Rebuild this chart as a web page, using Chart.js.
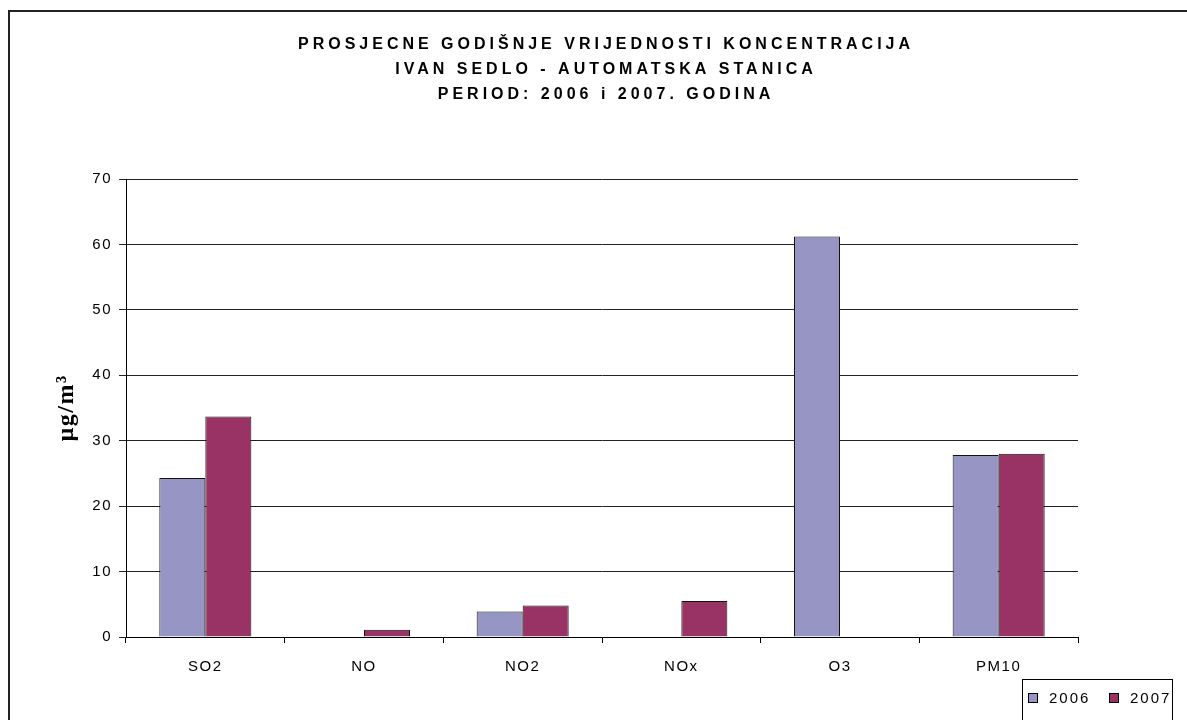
<!DOCTYPE html>
<html>
<head>
<meta charset="utf-8">
<script src="https://cdn.jsdelivr.net/npm/chart.js@4"></script>
<style>
  html, body { margin: 0; padding: 0; background: #fff; }
  #wrap { width: 1187px; height: 720px; position: relative; }
</style>
</head>
<body>
<div id="wrap"><canvas id="c" width="1187" height="720"></canvas></div>
<script>
const titleLines = [
  'PROSJECNE GODIŠNJE VRIJEDNOSTI KONCENTRACIJA',
  'IVAN SEDLO - AUTOMATSKA STANICA',
  'PERIOD: 2006 i 2007. GODINA'
];
const categories = ['SO2', 'NO', 'NO2', 'NOx', 'O3', 'PM10'];
const seriesLabels = ['2006', '2007'];
const values2006 = [24.3, null, 3.9, null, 61.2, 27.8];
const values2007 = [33.7, 1.1, 4.8, 5.5, null, 28.0];
const yTickValues = [0, 10, 20, 30, 40, 50, 60, 70];
const yAxisTitle = 'µg/m³';
const colors = ['#9695C4', '#993366'];

const FONT = '"Liberation Sans", Arial, sans-serif';

const framePlugin = {
  id: 'frame',
  beforeDraw(chart) {
    const ctx = chart.ctx;
    ctx.save();
    ctx.fillStyle = '#fff';
    ctx.fillRect(0, 0, chart.width, chart.height);
    ctx.restore();
    ctx.letterSpacing = '1.5px';
  },
  afterDraw(chart) {
    const ctx = chart.ctx;
    ctx.save();
    // outer frame (left and top edges visible)
    ctx.strokeStyle = '#222';
    ctx.lineWidth = 2;
    ctx.beginPath();
    ctx.moveTo(9, 740);
    ctx.lineTo(9, 11);
    ctx.lineTo(1200, 11);
    ctx.stroke();

    // title
    ctx.fillStyle = '#000';
    ctx.font = 'bold 16px ' + FONT;
    ctx.letterSpacing = '4px';
    ctx.textAlign = 'center';
    ctx.textBaseline = 'middle';
    const cx = (chart.chartArea.left + chart.chartArea.right) / 2 + 4;
    titleLines.forEach((t, i) => ctx.fillText(t, cx, 45 + i * 25));

    // legend
    ctx.letterSpacing = '2px';
    ctx.lineWidth = 1;
    ctx.strokeStyle = '#000';
    ctx.strokeRect(1022.5, 679.5, 150, 60);
    ctx.font = '15px ' + FONT;
    ctx.textAlign = 'left';
    const items = chart.data.datasets;
    const xs = [1028, 1109];
    items.forEach((ds, i) => {
      ctx.fillStyle = ds.backgroundColor;
      ctx.fillRect(xs[i], 693, 9, 9);
      ctx.strokeRect(xs[i] + 0.5, 693.5, 9, 9);
      ctx.fillStyle = '#000';
      ctx.fillText(ds.label, xs[i] + 21, 698.5);
    });
    ctx.restore();
  }
};

new Chart(document.getElementById('c'), {
  type: 'bar',
  data: {
    labels: categories,
    datasets: [
      { label: seriesLabels[0], data: values2006, backgroundColor: colors[0], borderColor: '#111', borderWidth: 1 },
      { label: seriesLabels[1], data: values2007, backgroundColor: colors[1], borderColor: '#111', borderWidth: 1 }
    ]
  },
  options: {
    responsive: false,
    animation: false,
    events: [],
    layout: { padding: { top: 179, right: 109, bottom: 0, left: 0 } },
    datasets: { bar: { categoryPercentage: 0.58, barPercentage: 1.0 } },
    plugins: {
      legend: { display: false },
      title: { display: false },
      tooltip: { enabled: false }
    },
    scales: {
      x: {
        offset: true,
        grid: { drawOnChartArea: false, drawTicks: true, tickLength: 6, color: '#000', offset: true },
        border: { color: '#000', width: 1 },
        ticks: { color: '#000', font: { family: FONT, size: 15 }, padding: 15, maxRotation: 0 },
        afterFit(scale) { scale.height = 83; }
      },
      y: {
        min: 0,
        max: 70,
        afterBuildTicks(scale) { scale.ticks = yTickValues.map(v => ({ value: v })); },
        grid: { color: '#222', lineWidth: 1, tickLength: 7, drawTicks: true },
        border: { color: '#000', width: 1 },
        ticks: { color: '#000', font: { family: FONT, size: 15 }, padding: 7 },
        title: {
          display: true,
          text: yAxisTitle,
          color: '#000',
          font: { family: '"Liberation Serif", "Times New Roman", serif', size: 24, weight: 'bold' },
          padding: { top: 52, bottom: 0 }
        },
        afterFit(scale) { scale.width = 126; }
      }
    }
  },
  plugins: [framePlugin]
});
</script>
</body>
</html>
